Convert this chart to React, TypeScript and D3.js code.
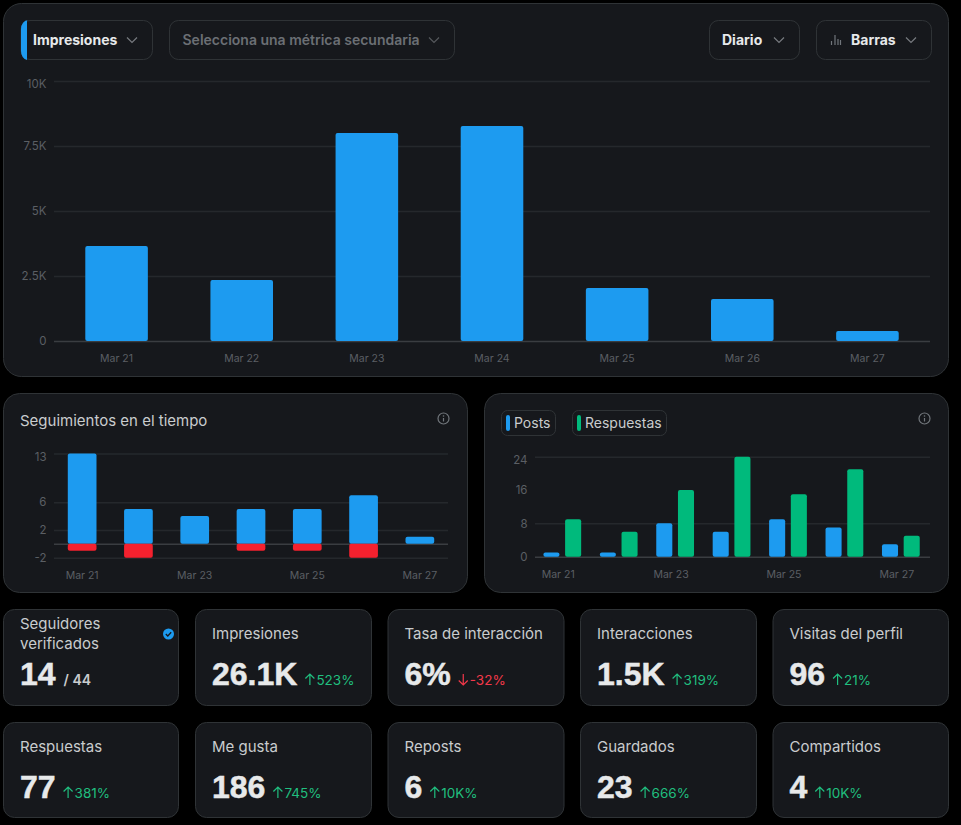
import React, { useEffect, useRef } from "react";
import * as d3 from "d3";

const days = ["Mar 21", "Mar 22", "Mar 23", "Mar 24", "Mar 25", "Mar 26", "Mar 27"];
const impressions = [3650, 2350, 8000, 8270, 2040, 1615, 385];
const impressionTicks = [0, 2500, 5000, 7500, 10000];
const impressionLabels = ["0", "2.5K", "5K", "7.5K", "10K"];

const followsGained = [13, 5, 4, 5, 5, 7, 1];
const followsLost = [-1, -2, 0, -1, -1, -2, 0];
const followTicks = [-2, 0, 2, 6, 13];

const posts = [1, 1, 8, 6, 9, 7, 3];
const replies = [9, 6, 16, 24, 15, 21, 5];
const postTicks = [0, 8, 16, 24];

const sparseDays = ["Mar 21", "Mar 23", "Mar 25", "Mar 27"];

const cardTitles = ["Seguidores verificados", "Impresiones", "Tasa de interacción", "Interacciones", "Visitas del perfil", "Respuestas", "Me gusta", "Reposts", "Guardados", "Compartidos"];
const cardValues = ["14", "26.1K", "6%", "1.5K", "96", "77", "186", "6", "23", "4"];
const cardDeltas = ["", "523%", "-32%", "319%", "21%", "381%", "745%", "10K%", "666%", "10K%"];

const FONT = "Inter, 'Noto Sans', sans-serif";
const BG = "#16181c";
const BORDER = "#2f3336";
const GRID = "#25282c";
const ZERO = "#3a3d41";
const AXIS_TEXT = "#5b5f64";
const TITLE = "#c9ccce";
const BLUE = "#1d9bf0";
const GREEN = "#00ba7c";
const RED = "#f4212e";

type G = d3.Selection<SVGGElement, unknown, null, undefined>;

function panel(g: G, x0: number, y0: number, x1: number, y1: number, r: number) {
  g.append("rect")
    .attr("x", x0).attr("y", y0).attr("width", x1 - x0).attr("height", y1 - y0)
    .attr("rx", r).attr("fill", BG).attr("stroke", BORDER);
}

function chevron(g: G, cx: number, color = "#777a7f") {
  g.append("path")
    .attr("d", `M${cx - 5} 37.5 L${cx} 42.5 L${cx + 5} 37.5`)
    .attr("fill", "none").attr("stroke", color).attr("stroke-width", 1.2);
}

function label(g: G, x: number, y: number, text: string, size: number, weight: number, color: string) {
  return g.append("text")
    .attr("x", x).attr("y", y).attr("font-size", size).attr("font-weight", weight)
    .attr("fill", color).text(text);
}

function infoIcon(g: G, cx: number, cy: number) {
  g.append("circle").attr("cx", cx).attr("cy", cy).attr("r", 5.5).attr("fill", "none").attr("stroke", "#71767b").attr("stroke-width", 1.2);
  g.append("path").attr("d", `M${cx} ${cy - 0.5} V${cy + 3}`).attr("stroke", "#71767b").attr("stroke-width", 1.2);
  g.append("circle").attr("cx", cx).attr("cy", cy - 2.5).attr("r", 0.8).attr("fill", "#71767b");
}

// axis + gridlines shared by the three charts
function drawAxes(
  g: G,
  x: d3.ScaleBand<string>,
  y: d3.ScaleLinear<number, number>,
  ticks: number[],
  fmt: (d: number) => string,
  xLabels: string[],
  labelShift: number,
  gridless: number[] = [],
) {
  const [x0, x1] = x.range();
  const yAxis = d3.axisLeft(y).tickValues(ticks).tickFormat((d) => fmt(d as number)).tickSize(x0 - x1).tickPadding(7.5);
  const ya = g.append("g").attr("transform", `translate(${x0},0)`).call(yAxis);
  ya.select(".domain").remove();
  ya.selectAll<SVGLineElement, number>(".tick line")
    .attr("stroke", (d) => (d === 0 ? ZERO : GRID))
    .attr("x2", (d) => (gridless.includes(d) ? 0 : x1 - x0))
    .attr("stroke-width", 1.5);
  const top = d3.max(ticks)!;
  ya.selectAll<SVGTextElement, number>(".tick text")
    .attr("fill", AXIS_TEXT).attr("font-size", 11.5).attr("font-family", FONT)
    .attr("dy", (d) => (d === top ? "0.6em" : "0.32em"));

  const xAxis = d3.axisBottom(x).tickValues(xLabels).tickSize(0).tickPadding(0);
  const xa = g.append("g").attr("transform", `translate(${labelShift},${y.range()[0] + 21})`).call(xAxis);
  xa.select(".domain").remove();
  xa.selectAll("text").attr("fill", AXIS_TEXT).attr("font-size", 10.5).attr("font-family", FONT).attr("dy", 0);
}

function drawMain(g: G) {
  panel(g, 3.5, 3.5, 948.5, 376.5, 18);

  const buttons: [number, number][] = [[21, 152.5], [169.5, 454.5], [709.5, 799.5], [816.5, 931.5]];
  buttons.forEach(([a, b]) => {
    g.append("rect").attr("x", a).attr("y", 20.5).attr("width", b - a).attr("height", 39).attr("rx", 9).attr("fill", "none").attr("stroke", BORDER);
  });
  g.append("path").attr("d", "M27 20 H29 M27 20 H28 A7 9 0 0 0 21 29 V51 A7 9 0 0 0 27 60 Z").attr("fill", BLUE);
  label(g, 33, 45, "Impresiones", 14, 700, "#e7e9ea");
  chevron(g, 132);
  label(g, 182.5, 45, "Selecciona una métrica secundaria", 14, 600, "#6b6f74");
  chevron(g, 434, "#55585c");
  label(g, 722, 45, "Diario", 14, 700, "#e7e9ea");
  chevron(g, 779);
  label(g, 851, 45, "Barras", 14, 700, "#e7e9ea");
  chevron(g, 911);
  g.append("path").attr("d", "M831.5 45 V41 M835 45 V35 M838 45 V39 M840.5 45 V40").attr("stroke", "#71767b").attr("stroke-width", 1.2);

  const x = d3.scaleBand<string>().domain(days).range([54, 930]).paddingInner(0.5).paddingOuter(0.25);
  const y = d3.scaleLinear().domain([0, 10000]).range([341, 81]);
  drawAxes(g, x, y, impressionTicks, (d) => impressionLabels[impressionTicks.indexOf(d)], days, 0);

  g.append("g").selectAll("rect").data(impressions).join("rect")
    .attr("x", (_, i) => x(days[i])!)
    .attr("width", x.bandwidth())
    .attr("y", (d) => y(d))
    .attr("height", (d) => y(0) - y(d))
    .attr("rx", 2)
    .attr("fill", BLUE);
}

function drawFollows(g: G) {
  panel(g, 3.5, 393.5, 467.5, 592.5, 16);
  label(g, 20, 426, "Seguimientos en el tiempo", 15, 400, TITLE);
  infoIcon(g, 443.5, 418.5);

  const x = d3.scaleBand<string>().domain(days).range([54, 448]).paddingInner(0.49).paddingOuter(0.245);
  const y = d3.scaleLinear().domain([-2, 13]).range([557.7, 453.5]);
  // the zero line has no label in this chart
  drawAxes(g, x, y, followTicks, (d) => (d === 0 ? "" : String(d)), sparseDays, 0);

  g.append("g").selectAll("rect").data(followsGained).join("rect")
    .attr("x", (_, i) => x(days[i])!)
    .attr("width", x.bandwidth())
    .attr("y", (d) => y(d))
    .attr("height", (d) => y(0) - y(d))
    .attr("rx", 2)
    .attr("fill", BLUE);
  g.append("g").selectAll("rect").data(followsLost).join("rect")
    .attr("x", (_, i) => x(days[i])!)
    .attr("width", x.bandwidth())
    .attr("y", y(0))
    .attr("height", (d) => y(d) - y(0))
    .attr("rx", 2)
    .attr("fill", RED);
}

function drawPosts(g: G) {
  panel(g, 484.5, 393.5, 948.5, 592.5, 16);
  infoIcon(g, 924.5, 418.5);

  const chips: [number, number, string, string][] = [[501.5, 555.5, "Posts", BLUE], [572.5, 666.5, "Respuestas", GREEN]];
  chips.forEach(([a, b, name, color]) => {
    g.append("rect").attr("x", a).attr("y", 410.5).attr("width", b - a).attr("height", 25).attr("rx", 6).attr("fill", "none").attr("stroke", BORDER);
    g.append("rect").attr("x", a + 4.5).attr("y", 415).attr("width", 4).attr("height", 16).attr("rx", 2).attr("fill", color);
    label(g, a + 12.5, 428, name, 14, 400, TITLE);
  });

  const x = d3.scaleBand<string>().domain(days).range([535, 930]);
  const inner = d3.scaleBand<string>().domain(["posts", "replies"]).range([0, x.bandwidth()]).paddingInner(0.26).paddingOuter(0.43).align(0.45);
  const y = d3.scaleLinear().domain([0, 24]).range([556.7, 456.7]);
  drawAxes(g, x, y, postTicks, String, sparseDays, -5, [16]);

  g.append("g").selectAll("rect").data(posts).join("rect")
    .attr("x", (_, i) => x(days[i])! + inner("posts")!)
    .attr("width", inner.bandwidth())
    .attr("y", (d) => y(d))
    .attr("height", (d) => y(0) - y(d))
    .attr("rx", 2)
    .attr("fill", BLUE);
  g.append("g").selectAll("rect").data(replies).join("rect")
    .attr("x", (_, i) => x(days[i])! + inner("replies")!)
    .attr("width", inner.bandwidth())
    .attr("y", (d) => y(d))
    .attr("height", (d) => y(0) - y(d))
    .attr("rx", 2)
    .attr("fill", GREEN);
}

function drawCards(g: G) {
  const cols: [number, number][] = [[3.5, 178.5], [195.5, 371.5], [388, 564], [580.5, 756.5], [773, 948.5]];
  const rows: [number, number][] = [[609.5, 705.5], [722.5, 817.5]];

  cardTitles.forEach((title, i) => {
    const [x0, x1] = cols[i % 5];
    const [y0, y1] = rows[Math.floor(i / 5)];
    panel(g, x0, y0, x1, y1, 11);
    const tx = x0 + 16.5;
    if (i === 0) {
      label(g, tx, 629, "Seguidores", 15, 400, TITLE);
      label(g, tx, 649, "verificados", 15, 400, TITLE);
      g.append("circle").attr("cx", 168.5).attr("cy", 634).attr("r", 5.5).attr("fill", BLUE);
      g.append("path").attr("d", "M165.8 634 L167.8 636 L171.2 632.3").attr("fill", "none").attr("stroke", BG).attr("stroke-width", 1.3);
    } else {
      label(g, tx, y0 + 29.5, title, 15, 400, TITLE);
    }

    const base = y0 + 75.5;
    const value = label(g, tx, base, cardValues[i], 32, 700, "#e7e9ea")
      .attr("font-family", "'Liberation Sans', Arial, sans-serif")
      .attr("stroke", "#e7e9ea").attr("stroke-width", 0.5);
    const end = tx + (value.node() as SVGTextElement).getComputedTextLength();
    if (i === 0) {
      label(g, end + 8, base - 0.5, "/ 44", 14, 600, TITLE);
      return;
    }
    const delta = cardDeltas[i];
    const down = delta.startsWith("-");
    const color = down ? "#f4384a" : "#20bf7f";
    const ax = end + 8 + 4.5;
    const arrow = down
      ? `M${ax} ${base - 11} V${base} M${ax - 4.5} ${base - 4.5} L${ax} ${base} L${ax + 4.5} ${base - 4.5}`
      : `M${ax} ${base - 11} V${base} M${ax - 4.5} ${base - 6.5} L${ax} ${base - 11} L${ax + 4.5} ${base - 6.5}`;
    g.append("path").attr("d", arrow).attr("fill", "none").attr("stroke", color).attr("stroke-width", 1.2);
    label(g, ax + 6.5, base, delta, 13.5, 400, color);
  });
}

export default function App() {
  const ref = useRef<SVGSVGElement>(null);

  useEffect(() => {
    const svg = d3.select(ref.current!);
    svg.selectAll("*").remove();
    const root = svg.append("g").attr("font-family", FONT) as unknown as G;
    drawMain(root);
    drawFollows(root);
    drawPosts(root);
    drawCards(root);
  }, []);

  return (
    <svg
      ref={ref}
      width={961}
      height={825}
      style={{ position: "fixed", left: 0, top: 0, display: "block", background: "#000" }}
    />
  );
}
